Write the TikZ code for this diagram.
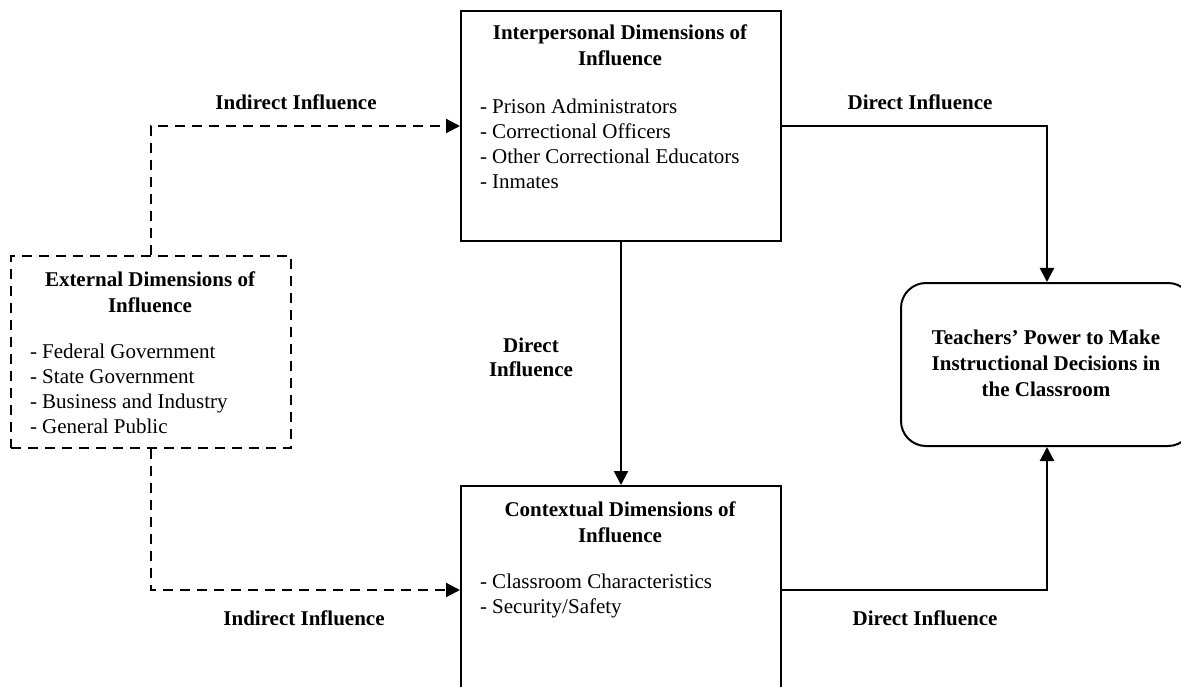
\documentclass[tikz,border=0pt]{standalone}
\usepackage{fontspec}
\setmainfont{Liberation Serif}
\usetikzlibrary{arrows.meta,positioning}
\begin{document}
\begin{tikzpicture}[x=1pt,y=-1pt,
  font=\fontsize{21}{25}\selectfont,
  boxst/.style={draw, line width=2pt, anchor=north west, inner sep=0pt},
  txt/.style={inner sep=0pt, outer sep=0pt},
  ttl/.style={txt, align=center, font=\fontsize{21}{26}\selectfont\bfseries},
  lst/.style={txt, align=left, anchor=north west},
  lbl/.style={txt, align=center, font=\fontsize{21}{24}\selectfont\bfseries},
  conn/.style={line width=2.2pt, -{Triangle[length=14pt,width=14pt]}},
  dconn/.style={conn, dash pattern=on 10pt off 7pt}
]
\useasboundingbox (0,0) rectangle (1181,687);
% boxes
\node[boxst, minimum width=320pt, minimum height=230pt] (ip) at (460,10) {};
\node[boxst, minimum width=320pt, minimum height=208pt] (ct) at (460,485) {};
\node[boxst, dash pattern=on 10pt off 7pt, minimum width=280pt, minimum height=192pt] (ext) at (10,255) {};
\node[boxst, rounded corners=25pt, minimum width=292pt, minimum height=163pt] (tp) at (900,282) {};
% texts
\node[ttl, anchor=north] (ipt) at (620,25) {Interpersonal Dimensions of\\Influence};
\node[lst] (ipl) at (480,99) {- Prison Administrators\\- Correctional Officers\\- Other Correctional Educators\\- Inmates};
\node[ttl, anchor=north] (ctt) at (620,502) {Contextual Dimensions of\\Influence};
\node[lst] (ctl) at (480,574) {- Classroom Characteristics\\- Security/Safety};
\node[ttl, anchor=north] (extt) at (150,272) {External Dimensions of\\Influence};
\node[lst] (extl) at (30,344) {- Federal Government\\- State Government\\- Business and Industry\\- General Public};
\node[ttl, anchor=center] (tpt) at (1046,363) {Teachers’ Power to Make\\Instructional Decisions in\\the Classroom};
% connectors
\draw[dconn] (ext.north) |- (ip.west);
\draw[dconn] (ext.south) |- (ct.west);
\draw[conn] (ip.east) -| (tp.north);
\draw[conn] (ct.east) -| (tp.south);
\draw[conn] (ip.south) -- (ct.north);
% labels
\node[lbl] (l1) at (296,102) {Indirect Influence};
\node[lbl] (l2) at (920,102) {Direct Influence};
\node[lbl] (l3) at (531,357) {Direct\\Influence};
\node[lbl] (l4) at (304,618) {Indirect Influence};
\node[lbl] (l5) at (925,618) {Direct Influence};
\end{tikzpicture}
\end{document}
